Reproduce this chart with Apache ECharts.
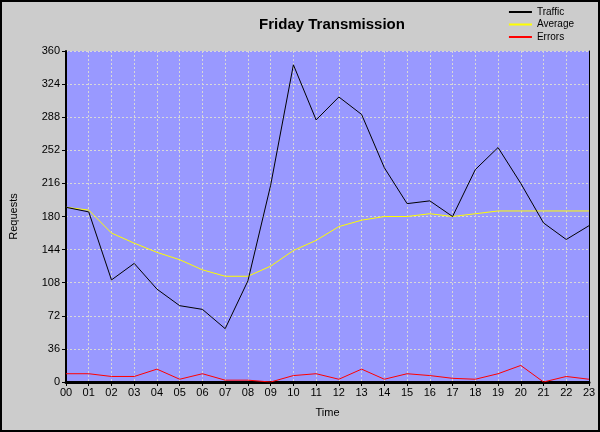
<!DOCTYPE html>
<html>
<head>
<meta charset="utf-8">
<script src="https://cdn.jsdelivr.net/npm/echarts@6/dist/echarts.min.js"></script>
<style>
html,body{margin:0;padding:0;background:#cccccc;}
#c{width:600px;height:432px;}
</style>
</head>
<body>
<div id="c"></div>
<script>
var hours = ['00','01','02','03','04','05','06','07','08','09','10','11','12','13','14','15','16','17','18','19','20','21','22','23'];
var traffic = [190,185,111,129,101,83,79,58,110,214,345,285,310,291,233,194,197,180,231,255,216,173,155,170];
var average = [190,187,162,151,141,133,122,115,115,126,143,154,169,176,180,180,183,180,183,186,186,186,186,186];
var errors = [9,9,6,6,14,3,9,2,2,0,7,9,3,14,3,9,7,4,3,9,18,0,6,3];
var yTicks = {min:0, max:360, interval:36};

var font = 'Liberation Sans';
var chart = echarts.init(document.getElementById('c'), null, {renderer:'canvas'});
chart.setOption({
  animation:false,
  backgroundColor:'#cccccc',
  title:{
    text:'Friday Transmission', left:327, top:12, textAlign:'center',
    textStyle:{fontFamily:font, fontSize:15, fontWeight:'bold', color:'#000'}
  },
  legend:{
    orient:'vertical', right:21, top:1, itemWidth:23, itemHeight:2, itemGap:0.5,
    icon:'rect',
    textStyle:{fontFamily:font, fontSize:10, color:'#000', lineHeight:12},
    data:['Traffic','Average','Errors']
  },
  grid:{left:66, right:11, top:51, bottom:50, show:true, backgroundColor:'#9999ff', borderWidth:0, outerBoundsMode:'none', containLabel:false},
  xAxis:[{
    type:'category', data:hours, boundaryGap:false,
    name:'Time', nameLocation:'middle', nameGap:25,
    nameTextStyle:{fontFamily:font, fontSize:11, color:'#000'},
    axisLine:{lineStyle:{color:'#000', width:3}},
    axisTick:{show:true, length:4, lineStyle:{color:'#000'}},
    axisLabel:{fontFamily:font, fontSize:11, color:'#000', margin:5, interval:0},
    splitLine:{show:true, lineStyle:{color:'#d8d8d8', type:[2,2], width:1}}
  },{
    type:'category', data:hours, boundaryGap:false, position:'top',
    axisLine:{lineStyle:{color:'#000', width:1, type:[1,1]}},
    axisTick:{show:false}, axisLabel:{show:false}, splitLine:{show:false}
  }],
  yAxis:[{
    type:'value', min:yTicks.min, max:yTicks.max, interval:yTicks.interval,
    name:'Requests', nameLocation:'middle', nameGap:47,
    nameTextStyle:{fontFamily:font, fontSize:11, color:'#000'},
    axisLine:{show:true, lineStyle:{color:'#000', width:2}},
    axisTick:{show:true, length:4, lineStyle:{color:'#000'}},
    axisLabel:{fontFamily:font, fontSize:11, color:'#000', margin:6},
    splitLine:{show:true, lineStyle:{color:'#d8d8d8', type:[2,2], width:1}}
  },{
    type:'value', min:yTicks.min, max:yTicks.max, interval:yTicks.interval, position:'right',
    axisLine:{show:true, lineStyle:{color:'#000', width:1}},
    axisTick:{show:false}, axisLabel:{show:false}, splitLine:{show:false}
  }],
  series:[
    {name:'Errors', type:'line', data:errors, symbol:'none', z:3, lineStyle:{color:'#ff0000', width:1}, itemStyle:{color:'#ff0000'}},
    {name:'Average', type:'line', data:average, symbol:'none', z:4, lineStyle:{color:'#ffff00', width:1}, itemStyle:{color:'#ffff00'}},
    {name:'Traffic', type:'line', data:traffic, symbol:'none', z:5, lineStyle:{color:'#000000', width:1}, itemStyle:{color:'#000000'}}
  ],
  graphic:[{
    type:'rect', shape:{x:1, y:1, width:598, height:430}, silent:true,
    style:{fill:'none', stroke:'#000', lineWidth:2}
  }]
});
</script>
</body>
</html>
